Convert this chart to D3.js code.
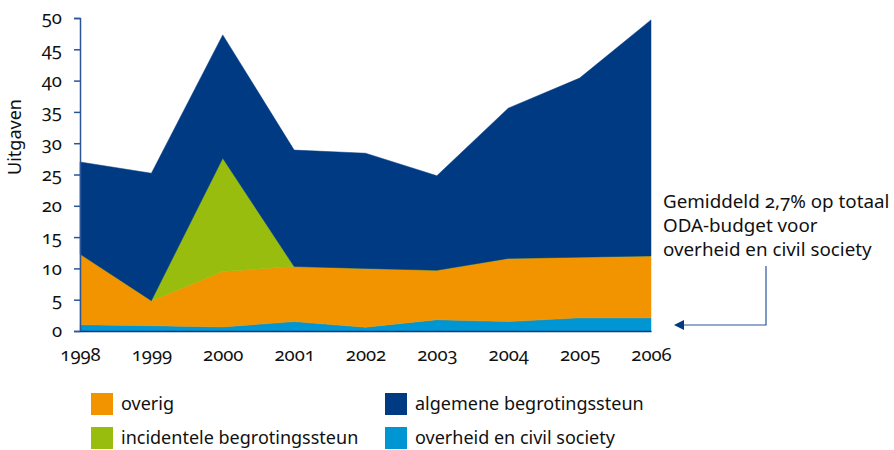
<!DOCTYPE html>
<html lang="nl">
<head>
<meta charset="utf-8">
<script src="https://d3js.org/d3.v7.min.js"></script>
<style>
  body { margin: 0; background: #fff; }
  svg text { font-family: "Noto Sans", sans-serif; fill: #111; font-variant-numeric: oldstyle-nums; }
</style>
</head>
<body>
<script>
// data
var years = ["1998", "1999", "2000", "2001", "2002", "2003", "2004", "2005", "2006"];
var overheid = [1.0, 0.85, 0.65, 1.5, 0.6, 1.8, 1.5, 2.1, 2.1];
var overig = [11.3, 4.0, 8.85, 8.8, 9.4, 7.9, 10.1, 9.7, 9.9];
var incidenteel = [0, 0, 18.1, 0, 0, 0, 0, 0, 0];
var algemeen = [14.7, 20.35, 19.7, 18.6, 18.4, 15.1, 24.0, 28.6, 37.7];
var yTicks = [0, 5, 10, 15, 20, 25, 30, 35, 40, 45, 50];

var keys = ["overheid", "overig", "incidenteel", "algemeen"];
var labels = {
  overig: "overig",
  algemeen: "algemene begrotingssteun",
  incidenteel: "incidentele begrotingssteun",
  overheid: "overheid en civil society"
};
var colors = {
  overheid: "#0096d3",
  overig: "#f29400",
  incidenteel: "#98bd0e",
  algemeen: "#003a83"
};

var width = 894, height = 450;
var plotLeft = 80, plotRight = 651, plotTop = 18, plotBottom = 331;

var rows = years.map(function(y, i) {
  return { year: y, overheid: overheid[i], overig: overig[i], incidenteel: incidenteel[i], algemeen: algemeen[i] };
});

var svg = d3.select("body").append("svg")
  .attr("width", width)
  .attr("height", height);

var x = d3.scalePoint().domain(years).range([plotLeft, plotRight]);
var y = d3.scaleLinear().domain([0, 50]).range([plotBottom, plotTop]);

var stack = d3.stack().keys(keys)(rows);

var area = d3.area()
  .x(function(d) { return x(d.data.year); })
  .y0(function(d) { return y(d[0]); })
  .y1(function(d) { return y(d[1]); });

svg.selectAll("path.layer")
  .data(stack)
  .enter()
  .append("path")
  .attr("class", "layer")
  .attr("d", area)
  .attr("fill", function(d) { return colors[d.key]; })
  .attr("stroke", function(d) { return colors[d.key]; })
  .attr("stroke-width", 0.5);

// y axis
var yAxis = svg.append("g")
  .attr("transform", "translate(" + plotLeft + ",0)")
  .call(d3.axisLeft(y).tickValues(yTicks).tickSize(6).tickPadding(12));
yAxis.select(".domain").attr("stroke", "#2a5597").attr("stroke-width", 1.5);
yAxis.selectAll(".tick line").attr("stroke", "#2a5597").attr("stroke-width", 1.5);
yAxis.selectAll("text").style("font-size", "18.5px").attr("fill", "#111");

// x axis line
var xAxis = svg.append("g")
  .attr("transform", "translate(0," + plotBottom + ")")
  .call(d3.axisBottom(x).tickSize(0).tickPadding(17));
xAxis.select(".domain").attr("stroke", "#003a83").attr("stroke-width", 1.5);
xAxis.selectAll("text").style("font-size", "18.5px").attr("fill", "#111");

svg.append("text")
  .attr("transform", "translate(21,137) rotate(-90)")
  .attr("text-anchor", "middle")
  .style("font-size", "18px")
  .text("Uitgaven");

// annotation
var note = ["Gemiddeld 2,7% op totaal", "ODA-budget voor", "overheid en civil society"];
svg.selectAll("text.note")
  .data(note)
  .enter()
  .append("text")
  .attr("class", "note")
  .attr("x", 663)
  .attr("y", function(d, i) { return 208 + i * 24; })
  .style("font-size", "18.8px")
  .text(function(d) { return d; });

svg.append("defs").append("marker")
  .attr("id", "arrow")
  .attr("viewBox", "0 0 10 10")
  .attr("refX", 8).attr("refY", 5)
  .attr("markerWidth", 10).attr("markerHeight", 10)
  .attr("markerUnits", "userSpaceOnUse")
  .attr("orient", "auto")
  .append("path")
  .attr("d", "M10,5 L0,0 L0,10 Z")
  .attr("fill", "#003a83");

svg.append("path")
  .attr("d", "M766,266 V325 H676")
  .attr("fill", "none")
  .attr("stroke", "#2a5597")
  .attr("stroke-width", 1.2)
  .attr("marker-end", "url(#arrow)");

// legend
var legendOrder = ["overig", "incidenteel", "algemeen", "overheid"];
var lg = svg.selectAll("g.legend")
  .data(legendOrder)
  .enter()
  .append("g")
  .attr("class", "legend")
  .attr("transform", function(d, i) {
    return "translate(" + (i < 2 ? 91 : 385) + "," + (393 + (i % 2) * 34) + ")";
  });
lg.append("rect")
  .attr("width", 22).attr("height", 22)
  .attr("fill", function(d) { return colors[d]; });
lg.append("text")
  .attr("x", 30).attr("y", 17)
  .style("font-size", "18px")
  .text(function(d) { return labels[d]; });
</script>
</body>
</html>
